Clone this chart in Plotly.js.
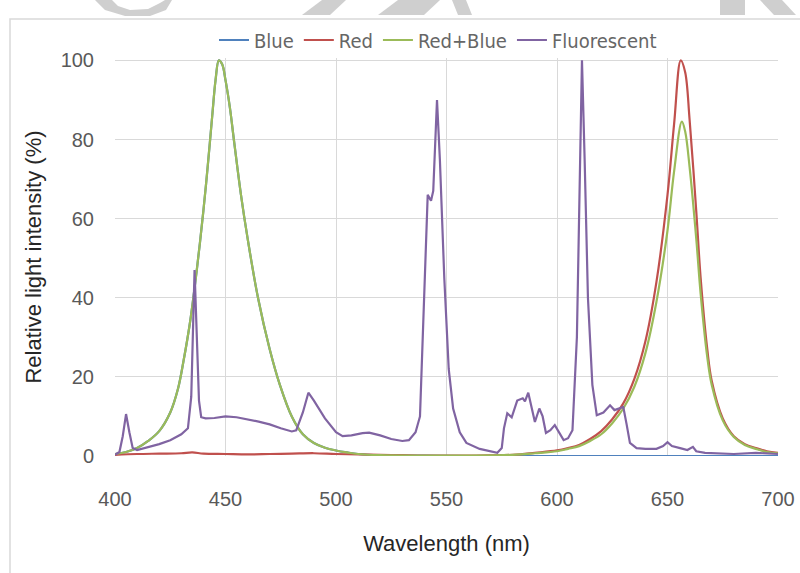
<!DOCTYPE html>
<html>
<head>
<meta charset="utf-8">
<script src="https://cdn.plot.ly/plotly-3.0.1.min.js"></script>
<style>html,body{margin:0;padding:0;background:#fff;}#chart{width:800px;height:573px;}</style>
</head>
<body>
<div id="chart"></div>
<script>
// ---- Data ----
const seriesNames = ["Blue", "Red", "Red+Blue", "Fluorescent"];

const blueX = [400,405,410,415,420,425,428.5,431,434,437,440,442,444,445.5,447,448.5,450,452,454,457,460,464.7,470,474.6,480,485,490,495,500,505,510,520,540,560,600,650,700];
const blueY = [0.5,1,2,3.8,6.3,11,17,24,34,47,62,73.5,86,95,100,99,95,88,79,66,55,40,27,18,10,5.5,3.3,2.1,1.4,0.9,0.5,0.2,0.1,0,0,0,0];

const redX = [400,410,420,430,435,440,450,460,470,480,490,500,510,520,530,540,560,580,590,600,605,610,615,620,625,630,635,640,645,650,653,656,658,660,663,665,668,670,675,680,685,690,695,700];
const redY = [0.3,0.5,0.6,0.7,0.9,0.6,0.5,0.4,0.5,0.6,0.7,0.5,0.4,0.3,0.2,0.1,0.1,0.3,0.8,1.4,2,2.8,4.3,6.3,9.3,13.3,19.5,29,44,66,84,100,97,85,62,45,27,19,9.5,5,3,2,1.2,0.8];

const rbX = [400,405,410,415,420,425,428.5,431,434,437,440,442,444,445.5,447,448.5,450,452,454,457,460,464.7,470,474.6,480,485,490,495,500,505,510,520,540,560,580,590,600,605,610,615,620,625,630,635,640,645,650,653,656.5,658,660,663,665,668,670,675,680,685,690,695,700];
const rbY = [0.5,1,2,3.8,6.3,11,17,24,34,47,62,73.5,86,95,100,99,95,88,79,66,55,40,27,18,10,5.5,3.3,2.1,1.4,0.9,0.5,0.2,0.1,0.1,0.3,0.7,1.2,1.8,2.5,3.8,5.5,8.3,12,17.5,26,39,57,72,84.5,82,73,55,41,25,18,9,4.8,2.8,1.8,1,0.7];

const flX = [400,402,403.5,405,406.5,408,410,415,420,425,430,433,434.5,436,437,438,439,441,445,450,455,460,465,470,475,480,482,485,487.5,490,495,500,503,507,512,515,520,525,530,533,536,538,540,541.5,543,544,545.7,547,549,551,553,556,559,565,573,575,576,577.5,579.5,582,584.5,585.5,587,588.5,590,592,593.5,595,597,599,601,603,605,607,609,610.5,611.3,612.5,614,616,618,621,624,626,630,631.5,633,636,640,645,648,650,652,655.7,659,661.5,663,667,680,690,695,700];
const flY = [0.3,1,5,10.6,6,2,1.5,2.2,3,4,5.5,7,15,47,30,14,9.8,9.5,9.6,10,9.8,9.3,8.7,8,7,6.2,6.5,11,16,14,9.5,6,5,5.2,5.8,5.9,5.2,4.3,3.8,4,6,10,40,66,64.5,67,90,75,45,22,12,6,3.3,1.8,0.8,2,7,10.8,9.8,14,14.6,13.8,16,12,8.6,12,10,5.8,6.5,7.8,6,4,4.5,6.5,30,80,100,75,40,18,10.3,11,12.8,11.6,12.4,8,3.3,2,1.8,1.8,2.5,3.5,2.5,2,1.5,2.3,1.2,0.8,0.5,0.8,0.6,0.5];

const xTicks = [400,450,500,550,600,650,700];
const yTicks = [0,20,40,60,80,100];

// ---- Styling ----
const colors = ["#4F81BD", "#C0504D", "#9BBB59", "#8064A2"];

const traces = [
  {x: blueX, y: blueY, name: seriesNames[0], mode: "lines", line: {color: colors[0], width: 2.2, shape: "spline", smoothing: 1}},
  {x: redX, y: redY, name: seriesNames[1], mode: "lines", line: {color: colors[1], width: 2.2, shape: "spline", smoothing: 1}},
  {x: rbX, y: rbY, name: seriesNames[2], mode: "lines", line: {color: colors[2], width: 2.2, shape: "spline", smoothing: 1}},
  {x: flX, y: flY, name: seriesNames[3], mode: "lines", line: {color: colors[3], width: 2.2, shape: "linear"}}
];

const W = 800, H = 573, L = 115, R = 22, T = 58, B = 117;
const pw = W - L - R, ph = H - T - B;
function px(x) { return (x - L) / pw; }
function py(y) { return (H - B - y) / ph; }
function pathPx(pts) {
  return "M " + pts.map(p => px(p[0]) + "," + py(p[1])).join(" L ") + " Z";
}

const wm = "#cfcfcf";
const shapes = [
  {type: "rect", xref: "paper", yref: "paper", x0: px(10), y0: py(19), x1: px(806), y1: py(580), line: {color: "#d9d9d9", width: 1.5}, fillcolor: "rgba(0,0,0,0)", layer: "below"},
  {type: "path", xref: "paper", yref: "paper", path: pathPx([[95,0],[112,0],[118,6],[130,10],[148,9],[160,3],[165,0],[172,0],[166,10],[150,16],[125,16],[105,10]]), fillcolor: wm, line: {width: 0}},
  {type: "path", xref: "paper", yref: "paper", path: pathPx([[322,0],[346,0],[330,15],[302,15]]), fillcolor: wm, line: {width: 0}},
  {type: "path", xref: "paper", yref: "paper", path: pathPx([[398,0],[440,0],[424,15],[378,15]]), fillcolor: wm, line: {width: 0}},
  {type: "path", xref: "paper", yref: "paper", path: pathPx([[452,0],[466,0],[472,15],[458,15]]), fillcolor: wm, line: {width: 0}},
  {type: "path", xref: "paper", yref: "paper", path: pathPx([[720,0],[745,0],[745,15],[720,15]]), fillcolor: wm, line: {width: 0}},
  {type: "path", xref: "paper", yref: "paper", path: pathPx([[760,0],[782,0],[796,15],[774,15]]), fillcolor: wm, line: {width: 0}}
];

const tickFont = {family: "Liberation Sans, Arial, sans-serif", size: 20, color: "#595959"};
const titleFont = {family: "Liberation Sans, Arial, sans-serif", size: 22, color: "#262626"};

const layout = {
  width: W, height: H,
  margin: {l: L, r: R, t: T, b: B, pad: 0},
  paper_bgcolor: "#ffffff",
  plot_bgcolor: "#ffffff",
  showlegend: true,
  legend: {
    orientation: "h", x: px(438), xanchor: "center", y: py(40), yanchor: "middle",
    font: {family: "DejaVu Sans Condensed, Liberation Sans, sans-serif", size: 20, color: "#666666"},
    bgcolor: "rgba(0,0,0,0)", itemwidth: 30, tracegroupgap: 0
  },
  xaxis: {
    range: [400, 700], tickmode: "array", tickvals: xTicks, ticktext: xTicks.map(String),
    showgrid: true, gridcolor: "#d9d9d9", gridwidth: 1, zeroline: false, showline: false,
    ticks: "outside", ticklen: 25, tickcolor: "rgba(0,0,0,0)",
    tickfont: tickFont,
    title: {text: "Wavelength (nm)", font: titleFont, standoff: 26}
  },
  yaxis: {
    range: [0, 100.6], tickmode: "array", tickvals: yTicks, ticktext: yTicks.map(String),
    showgrid: true, gridcolor: "#d9d9d9", gridwidth: 1, zeroline: false, showline: false,
    ticks: "outside", ticklen: 16, tickcolor: "rgba(0,0,0,0)",
    tickfont: tickFont,
    title: {text: "Relative light intensity (%)", font: titleFont, standoff: 12}
  },
  shapes: shapes
};

Plotly.newPlot("chart", traces, layout, {displayModeBar: false, staticPlot: true});
</script>
</body>
</html>
